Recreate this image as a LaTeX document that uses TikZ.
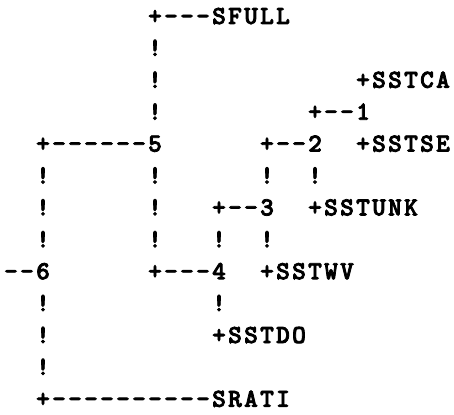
\documentclass[tikz,border=0pt]{standalone}
\usepackage{fontspec}
\newfontfamily\ascfont{lmmonolt10-bold.otf}[FakeBold=3]
\tikzset{
  ch/.style={anchor=base, inner sep=0pt, outer sep=0pt, text=black,
    font=\fontsize{26}{26}\selectfont\ascfont}
}
% place a row of monospaced characters on a fixed grid; '.' stands for a blank
\makeatletter
\newcommand\ascrow[2]{\def\ascr{#1}\def\ascc{0}\ascscan#2\relax}
\def\ascscan#1{%
  \ifx#1\relax\else
    \if#1.\else
      \node[ch] (r\ascr c\ascc) at ({11+16*\ascc},{24+31.9*\ascr}) {#1};%
    \fi
    \pgfmathtruncatemacro\ascc{\ascc+1}%
    \expandafter\ascscan
  \fi}
\makeatother
\begin{document}
\begin{tikzpicture}[x=1pt,y=-1pt]
  \fill[white] (0,0) rectangle (454,414);
  \useasboundingbox (0,0) rectangle (454,414);
  \ascrow{0}{.........+---SFULL}
  \ascrow{1}{.........!}
  \ascrow{2}{.........!............+SSTCA}
  \ascrow{3}{.........!.........+--1}
  \ascrow{4}{..+------5......+--2..+SSTSE}
  \ascrow{5}{..!......!......!..!}
  \ascrow{6}{..!......!...+--3..+SSTUNK}
  \ascrow{7}{..!......!...!..!}
  \ascrow{8}{--6......+---4..+SSTWV}
  \ascrow{9}{..!..........!}
  \ascrow{10}{..!..........+SSTDO}
  \ascrow{11}{..!}
  \ascrow{12}{..+----------SRATI}
\end{tikzpicture}
\end{document}
